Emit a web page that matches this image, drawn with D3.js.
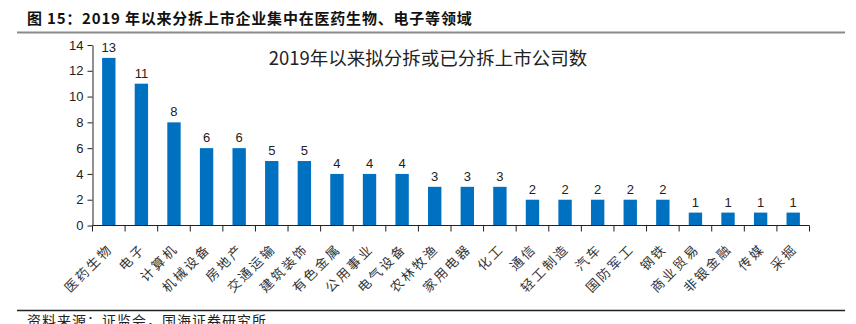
<!DOCTYPE html>
<html>
<head>
<meta charset="utf-8">
<script src="https://cdn.jsdelivr.net/npm/d3@7"></script>
<style>
  html, body { margin: 0; padding: 0; background: #fff; }
  svg { display: block; }
</style>
</head>
<body>
<svg id="chart" width="856" height="324"></svg>
<script>
// Sectors with spin-off listings since 2019
const categories = ["医药生物", "电子", "计算机", "机械设备", "房地产", "交通运输", "建筑装饰", "有色金属",
  "公用事业", "电气设备", "农林牧渔", "家用电器", "化工", "通信", "轻工制造", "汽车", "国防军工", "钢铁",
  "商业贸易", "非银金融", "传媒", "采掘"];
const counts = [13, 11, 8, 6, 6, 5, 5, 4, 4, 4, 3, 3, 3, 2, 2, 2, 2, 2, 1, 1, 1, 1];
const yTicks = [0, 2, 4, 6, 8, 10, 12, 14];

const figTitle = "图 15：2019 年以来分拆上市企业集中在医药生物、电子等领域";
const chartTitle = "2019年以来拟分拆或已分拆上市公司数";
const sourceNote = "资料来源：证监会，国海证券研究所";

const svg = d3.select("#chart");
const cjk = "'Noto Sans CJK SC', sans-serif";
const latin = "Arial, 'Liberation Sans', sans-serif";

// Figure heading and rules
svg.append("text").attr("x", 27).attr("y", 24)
  .attr("font-family", cjk).attr("font-size", 15).attr("font-weight", "bold").attr("fill", "#111")
  .attr("letter-spacing", 0.8)
  .text(figTitle);
svg.append("line").attr("x1", 17).attr("x2", 845).attr("y1", 32.5).attr("y2", 32.5)
  .attr("stroke", "#8a8a8a").attr("stroke-width", 2);
svg.append("line").attr("x1", 17).attr("x2", 845).attr("y1", 310.5).attr("y2", 310.5)
  .attr("stroke", "#222").attr("stroke-width", 1.3);
svg.append("text").attr("x", 27).attr("y", 326)
  .attr("font-family", cjk).attr("font-size", 14).attr("fill", "#222")
  .attr("letter-spacing", 1)
  .text(sourceNote);

// Plot area
const x = d3.scaleBand().domain(categories).range([92.5, 809.5]).paddingInner(0.59).paddingOuter(0.295);
const y = d3.scaleLinear().domain([0, 14]).range([225.5, 45]);

svg.append("text").attr("x", 428).attr("y", 65).attr("text-anchor", "middle")
  .attr("font-family", cjk).attr("font-size", 18.5).attr("fill", "#222")
  .text(chartTitle);

svg.append("g").selectAll("rect").data(counts).join("rect")
  .attr("x", (d, i) => x(categories[i]))
  .attr("width", x.bandwidth())
  .attr("y", d => y(d))
  .attr("height", d => y(0) - y(d))
  .attr("fill", "#0070C0");

svg.append("g").selectAll("text").data(counts).join("text")
  .attr("x", (d, i) => x(categories[i]) + x.bandwidth() / 2)
  .attr("y", d => y(d) - 6)
  .attr("text-anchor", "middle")
  .attr("font-family", latin).attr("font-size", 13).attr("fill", "#222")
  .text(d => d);

// Y axis
const yAxis = svg.append("g").attr("transform", "translate(92.5,0)")
  .call(d3.axisLeft(y).tickValues(yTicks).tickSize(5).tickPadding(4).tickSizeOuter(0));
yAxis.select(".domain").attr("stroke", "#222");
yAxis.selectAll(".tick line").attr("stroke", "#222");
yAxis.selectAll(".tick text").attr("font-family", latin).attr("font-size", 13).attr("fill", "#222");

// X axis: baseline with ticks at band boundaries
const xAxisG = svg.append("g").attr("transform", `translate(0,${y(0)})`);
const [x0, x1] = x.range();
xAxisG.append("line").attr("x1", x0).attr("x2", x1).attr("stroke", "#222");
xAxisG.selectAll("line.tk").data(d3.range(categories.length + 1)).join("line")
  .attr("class", "tk")
  .attr("x1", i => x0 + i * x.step())
  .attr("x2", i => x0 + i * x.step())
  .attr("y1", 0).attr("y2", 6).attr("stroke", "#222");

// Rotated category labels
svg.append("g").selectAll("text").data(categories).join("text")
  .attr("transform", d => `translate(${x(d) + x.bandwidth() / 2 + 5},${y(0) + 24}) rotate(-45)`)
  .attr("text-anchor", "end")
  .attr("font-family", cjk).attr("font-size", 13).attr("fill", "#333")
  .attr("letter-spacing", 2.5)
  .text(d => d);
</script>
</body>
</html>
